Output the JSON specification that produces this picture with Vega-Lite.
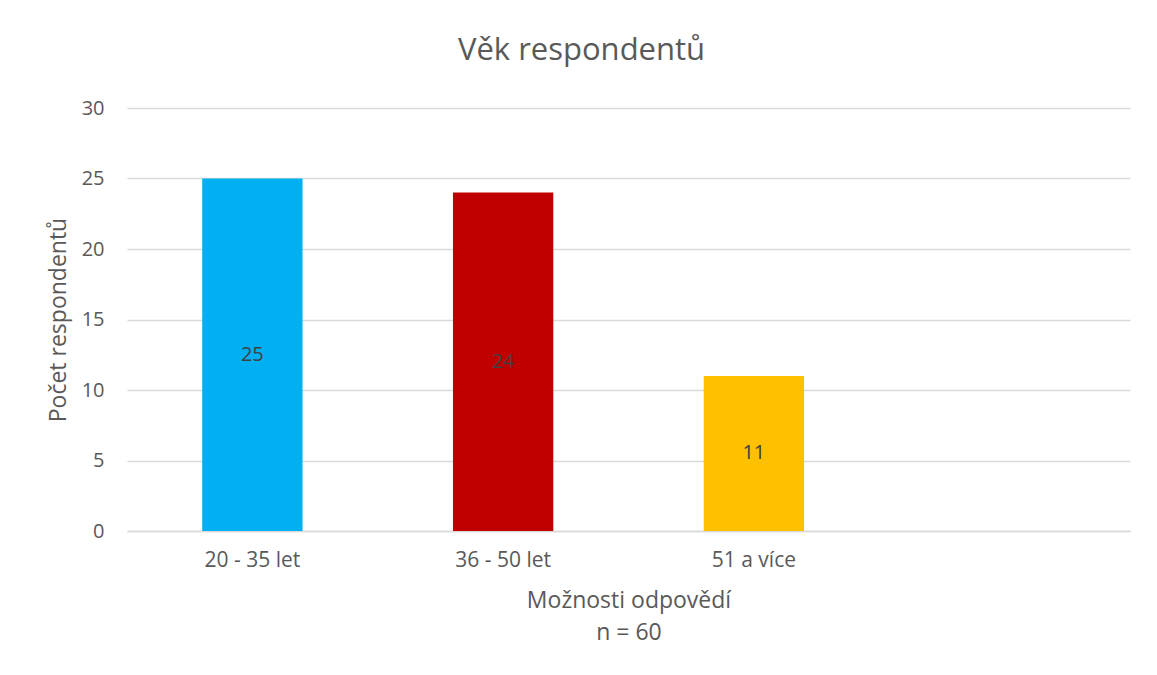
{
  "$schema": "https://vega.github.io/schema/vega-lite/v6.json",
  "autosize": "none",
  "width": 1003,
  "height": 423,
  "padding": {"left": 127, "top": 108, "right": 27, "bottom": 144},
  "background": "white",
  "config": {
    "font": "Open Sans",
    "view": {"stroke": null}
  },
  "title": {
    "text": "Věk respondentů",
    "fontSize": 31,
    "fontWeight": "normal",
    "color": "#595959",
    "anchor": "middle",
    "baseline": "alphabetic",
    "offset": 7,
    "dx": -47
  },
  "data": {
    "values": [
      {"kategorie": "20 - 35 let", "pocet": 25},
      {"kategorie": "36 - 50 let", "pocet": 24},
      {"kategorie": "51 a více", "pocet": 11}
    ]
  },
  "encoding": {
    "x": {
      "field": "kategorie",
      "type": "nominal",
      "sort": null,
      "scale": {
        "domain": ["20 - 35 let", "36 - 50 let", "51 a více", ""],
        "paddingInner": 0.6,
        "paddingOuter": 0.3
      },
      "axis": {
        "title": ["Možnosti odpovědí", "n = 60"],
        "titleFontSize": 23,
        "titleFontWeight": "normal",
        "titleColor": "#595959",
        "titleLineHeight": 32,
        "titlePadding": 19,
        "labelFontSize": 21,
        "labelColor": "#595959",
        "labelAngle": 0,
        "labelPadding": 18,
        "ticks": false,
        "domain": true,
        "domainColor": "#D9D9D9",
        "domainWidth": 1.5,
        "grid": false
      }
    }
  },
  "layer": [
    {
      "mark": {"type": "bar"},
      "encoding": {
        "y": {
          "field": "pocet",
          "type": "quantitative",
          "scale": {"domain": [0, 30], "nice": false},
          "axis": {
            "title": "Počet respondentů",
            "titleFontSize": 23,
            "titleFontWeight": "normal",
            "titleColor": "#595959",
            "titlePadding": 11,
            "values": [0, 5, 10, 15, 20, 25, 30],
            "labelFontSize": 20,
            "labelColor": "#595959",
            "labelPadding": 23,
            "ticks": false,
            "domain": false,
            "grid": true,
            "gridColor": "#D9D9D9",
            "gridWidth": 1.5
          }
        },
        "color": {
          "field": "kategorie",
          "type": "nominal",
          "scale": {
            "domain": ["20 - 35 let", "36 - 50 let", "51 a více"],
            "range": ["#00B0F0", "#C00000", "#FFC000"]
          },
          "legend": null
        }
      }
    },
    {
      "transform": [{"calculate": "datum.pocet / 2", "as": "stred"}],
      "mark": {"type": "text", "fontSize": 20, "color": "#404040", "baseline": "middle"},
      "encoding": {
        "y": {"field": "stred", "type": "quantitative"},
        "text": {"field": "pocet", "type": "quantitative"}
      }
    }
  ]
}
